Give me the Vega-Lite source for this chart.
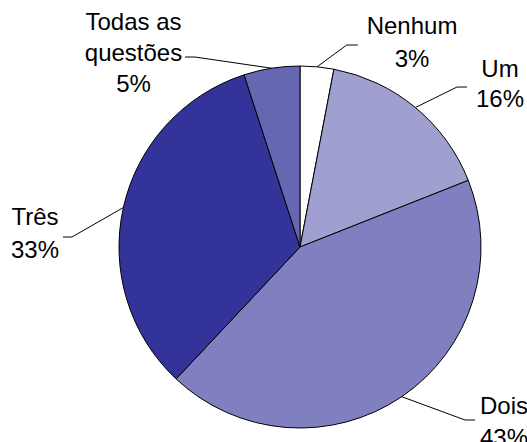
{
  "$schema": "https://vega.github.io/schema/vega-lite/v6.json",
  "width": 390,
  "height": 390,
  "autosize": "none",
  "padding": {"left": 105, "top": 52, "right": 32, "bottom": 0},
  "background": "white",
  "config": {"view": {"stroke": null}, "font": "Liberation Sans"},
  "data": {"values": [
    {"category": "Nenhum", "share": 0.03},
    {"category": "Um", "share": 0.16},
    {"category": "Dois", "share": 0.43},
    {"category": "Três", "share": 0.33},
    {"category": "Todas as questões", "share": 0.05}
  ]},
  "transform": [
    {"window": [{"op": "row_number", "as": "idx"}]},
    {"window": [{"op": "sum", "field": "share", "as": "cum"}], "sort": [{"field": "idx"}], "frame": [null, 0]},
    {"calculate": "2*PI*(datum.cum - datum.share/2)", "as": "mid"},
    {"calculate": "181*sin(datum.mid)", "as": "sx"},
    {"calculate": "181*cos(datum.mid)", "as": "sy"},
    {"calculate": "replace(datum.category, ' questões', '\\nquestões') + '\\n' + format(datum.share, '.0%')", "as": "label"}
  ],
  "encoding": {
    "x": {"field": "sx", "type": "quantitative", "scale": {"domain": [-195, 195], "nice": false, "zero": false}, "axis": null},
    "y": {"field": "sy", "type": "quantitative", "scale": {"domain": [-195, 195], "nice": false, "zero": false}, "axis": null}
  },
  "layer": [
    {
      "mark": {"type": "arc", "outerRadius": 181, "stroke": "#000000", "strokeWidth": 1},
      "encoding": {
        "x": null, "y": null,
        "theta": {"field": "share", "type": "quantitative", "stack": true},
        "order": {"field": "idx", "type": "quantitative"},
        "color": {"field": "category", "type": "nominal", "legend": null,
          "scale": {"domain": ["Nenhum", "Um", "Dois", "Três", "Todas as questões"],
                    "range": ["#FFFFFF", "#A0A0D0", "#8080C0", "#333399", "#6666B3"]}}
      }
    },
    {"transform": [{"filter": "datum.category === 'Nenhum'"}], "mark": {"type": "rule", "color": "#000", "strokeWidth": 1, "x2Offset": 29.7, "y2Offset": -21.8}, "encoding": {"x2": {"field": "sx"}, "y2": {"field": "sy"}}},
    {"transform": [{"filter": "datum.category === 'Nenhum'"}], "mark": {"type": "rule", "color": "#000", "strokeWidth": 1, "xOffset": 29.7, "yOffset": -21.8, "x2Offset": 40.7, "y2Offset": -21.8}, "encoding": {"x2": {"field": "sx"}, "y2": {"field": "sy"}}},
    {"transform": [{"filter": "datum.category === 'Nenhum'"}], "mark": {"type": "text", "dx": 95, "dy": -40, "align": "center", "baseline": "middle", "lineBreak": "\n", "lineHeight": 33, "fontSize": 24, "color": "#000"}, "encoding": {"text": {"field": "label"}}},

    {"transform": [{"filter": "datum.category === 'Um'"}], "mark": {"type": "rule", "color": "#000", "strokeWidth": 1, "x2Offset": 41.6, "y2Offset": -20.5}, "encoding": {"x2": {"field": "sx"}, "y2": {"field": "sy"}}},
    {"transform": [{"filter": "datum.category === 'Um'"}], "mark": {"type": "rule", "color": "#000", "strokeWidth": 1, "xOffset": 41.6, "yOffset": -20.5, "x2Offset": 51.6, "y2Offset": -20.5}, "encoding": {"x2": {"field": "sx"}, "y2": {"field": "sy"}}},
    {"transform": [{"filter": "datum.category === 'Um'"}], "mark": {"type": "text", "dx": 84.6, "dy": -37.5, "align": "center", "baseline": "middle", "lineBreak": "\n", "lineHeight": 30, "fontSize": 24, "color": "#000"}, "encoding": {"text": {"field": "label"}}},

    {"transform": [{"filter": "datum.category === 'Dois'"}], "mark": {"type": "rule", "color": "#000", "strokeWidth": 1, "x2Offset": 63.3, "y2Offset": 23.3}, "encoding": {"x2": {"field": "sx"}, "y2": {"field": "sy"}}},
    {"transform": [{"filter": "datum.category === 'Dois'"}], "mark": {"type": "rule", "color": "#000", "strokeWidth": 1, "xOffset": 63.3, "yOffset": 23.3, "x2Offset": 73.3, "y2Offset": 23.3}, "encoding": {"x2": {"field": "sx"}, "y2": {"field": "sy"}}},
    {"transform": [{"filter": "datum.category === 'Dois'"}], "mark": {"type": "text", "dx": 102.3, "dy": 9.8, "align": "center", "baseline": "middle", "lineBreak": "\n", "lineHeight": 32, "fontSize": 24, "color": "#000"}, "encoding": {"text": {"field": "label"}}},

    {"transform": [{"filter": "datum.category === 'Três'"}], "mark": {"type": "rule", "color": "#000", "strokeWidth": 1, "x2Offset": -51.4, "y2Offset": 29.5}, "encoding": {"x2": {"field": "sx"}, "y2": {"field": "sy"}}},
    {"transform": [{"filter": "datum.category === 'Três'"}], "mark": {"type": "rule", "color": "#000", "strokeWidth": 1, "xOffset": -51.4, "yOffset": 29.5, "x2Offset": -60.4, "y2Offset": 29.5}, "encoding": {"x2": {"field": "sx"}, "y2": {"field": "sy"}}},
    {"transform": [{"filter": "datum.category === 'Três'"}], "mark": {"type": "text", "dx": -88.4, "dy": 10.5, "align": "center", "baseline": "middle", "lineBreak": "\n", "lineHeight": 33, "fontSize": 24, "color": "#000"}, "encoding": {"text": {"field": "label"}}},

    {"transform": [{"filter": "datum.category === 'Todas as questões'"}], "mark": {"type": "rule", "color": "#000", "strokeWidth": 1, "x2Offset": -76.7, "y2Offset": -11.2}, "encoding": {"x2": {"field": "sx"}, "y2": {"field": "sy"}}},
    {"transform": [{"filter": "datum.category === 'Todas as questões'"}], "mark": {"type": "rule", "color": "#000", "strokeWidth": 1, "xOffset": -76.7, "yOffset": -11.2, "x2Offset": -86.7, "y2Offset": -11.2}, "encoding": {"x2": {"field": "sx"}, "y2": {"field": "sy"}}},
    {"transform": [{"filter": "datum.category === 'Todas as questões'"}], "mark": {"type": "text", "dx": -138.2, "dy": -44.9, "align": "center", "baseline": "middle", "lineBreak": "\n", "lineHeight": 31, "fontSize": 24, "color": "#000"}, "encoding": {"text": {"field": "label"}}}
  ]
}
